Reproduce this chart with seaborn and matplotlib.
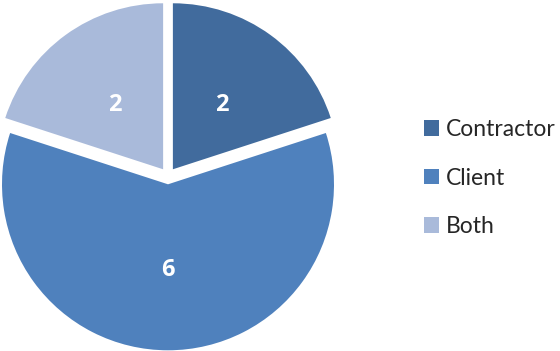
import matplotlib
matplotlib.use("Agg")
import matplotlib.pyplot as plt
from matplotlib.patches import Patch
from matplotlib.transforms import offset_copy
import seaborn as sns

# Who is responsible
categories = ["Contractor", "Client", "Both"]
counts = [2, 6, 2]
colors = ["#416B9D", "#4F81BD", "#A9BADA"]

sns.set_theme(style="white")
plt.rcParams["font.family"] = ["Lato", "DejaVu Sans"]

fig = plt.figure(figsize=(5.6, 3.51), dpi=100)
W, H = 560, 351
R = 166.0          # pie radius in pixels
cx, cy = 168.0, 176.0  # pie centre (pixels, from top-left)
span = 1.1
side = 2 * span * R
ax = fig.add_axes([(cx - side / 2) / W, (H - cy - side / 2) / H, side / W, side / H])

wedges, texts = ax.pie(
    counts,
    colors=colors,
    startangle=90,
    counterclock=False,
    explode=[0.05] * len(counts),
    labels=[str(v) for v in counts],
    labeldistance=0.5,
    wedgeprops=dict(linewidth=0),
    textprops=dict(color="white", fontsize=17, fontweight="bold",
                   family=["Open Sans", "DejaVu Sans"]),
)
for t in texts:
    t.set_horizontalalignment("center")
    t.set_verticalalignment("center")
    # digits have no descender, so nudge them down to sit visually centred
    t.set_transform(offset_copy(t.get_transform(), fig=fig, y=-3, units="dots"))

ax.set_xlim(-span, span)
ax.set_ylim(-span, span)
ax.set_aspect("equal")
ax.axis("off")

handles = [Patch(facecolor=c, edgecolor="none") for c in colors]
fig.legend(
    handles, categories,
    loc="center left",
    bbox_to_anchor=(424 / W, 1 - 178 / H),
    frameon=False,
    fontsize=16.5,
    handlelength=0.65,
    handleheight=0.65,
    handletextpad=0.3,
    labelspacing=1.2,
    borderpad=0,
    borderaxespad=0,
)

fig.savefig("out.png", dpi=100)
